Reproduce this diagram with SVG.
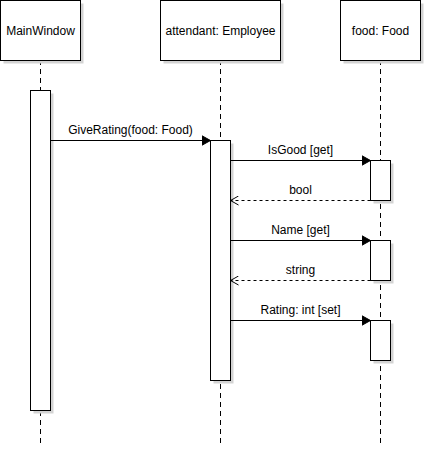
<svg xmlns="http://www.w3.org/2000/svg" width="425" height="465" viewBox="0 0 425 465">
<style>
.box{fill:#fff;stroke:#000;stroke-width:1}
.sh{fill:#d3d3d3;stroke:none}
.life{stroke:#000;stroke-width:1;stroke-dasharray:5 4;fill:none}
.msg{stroke:#000;stroke-width:1;fill:none}
.ret{stroke:#000;stroke-width:1;stroke-dasharray:3 3;fill:none}
.lbl{font-family:"Liberation Sans",Arial,sans-serif;font-size:12px;fill:#000;text-anchor:middle}
.ml{font-family:"Liberation Sans",Arial,sans-serif;font-size:12px;fill:#000;text-anchor:middle}
</style>
<defs>
<marker id="fill" markerWidth="10" markerHeight="12" refX="9" refY="6" orient="auto" markerUnits="userSpaceOnUse">
<path d="M0,1 L9,6 L0,11 Z" fill="#000" stroke="#000" stroke-width="1"/>
</marker>
<marker id="open" markerWidth="10" markerHeight="10" refX="9" refY="5" orient="auto" markerUnits="userSpaceOnUse">
<path d="M1,0.5 L9,5 L1,9.5" fill="none" stroke="#000" stroke-width="1"/>
</marker>
</defs>
<g id="lifelines">
<line class="life" x1="40.5" y1="60" x2="40.5" y2="446"/>
<line class="life" x1="220.5" y1="60" x2="220.5" y2="446"/>
<line class="life" x1="380.5" y1="60" x2="380.5" y2="446"/>
</g>
<g id="MainWindow">
<rect class="sh" x="3.5" y="3.5" width="80" height="60"/>
<rect class="box" x="0.5" y="0.5" width="80" height="60"/>
<text class="lbl" x="40.5" y="35">MainWindow</text>
</g>
<g id="attendant">
<rect class="sh" x="163.5" y="3.5" width="120" height="60"/>
<rect class="box" x="160.5" y="0.5" width="120" height="60"/>
<text class="lbl" x="220.5" y="35">attendant: Employee</text>
</g>
<g id="food">
<rect class="sh" x="343.5" y="3.5" width="80" height="60"/>
<rect class="box" x="340.5" y="0.5" width="80" height="60"/>
<text class="lbl" x="380.5" y="35">food: Food</text>
</g>
<g id="act-main">
<rect class="sh" x="33.5" y="93.5" width="20" height="320"/>
<rect class="box" x="30.5" y="90.5" width="20" height="320"/>
</g>
<g id="act-attendant">
<rect class="sh" x="213.5" y="143.5" width="20" height="240"/>
<rect class="box" x="210.5" y="140.5" width="20" height="240"/>
</g>
<g id="act-food1">
<rect class="sh" x="373.5" y="163.5" width="20" height="40"/>
<rect class="box" x="370.5" y="160.5" width="20" height="40"/>
</g>
<g id="act-food2">
<rect class="sh" x="373.5" y="243.5" width="20" height="40"/>
<rect class="box" x="370.5" y="240.5" width="20" height="40"/>
</g>
<g id="act-food3">
<rect class="sh" x="373.5" y="323.5" width="20" height="40"/>
<rect class="box" x="370.5" y="320.5" width="20" height="40"/>
</g>
<g id="connectors">
<line class="msg" x1="50.5" y1="140.5" x2="210.5" y2="140.5" marker-end="url(#fill)"/>
<text class="ml" x="130.5" y="134">GiveRating(food: Food)</text>
<line class="msg" x1="230.5" y1="160.5" x2="370.5" y2="160.5" marker-end="url(#fill)"/>
<text class="ml" x="300.5" y="154">IsGood [get]</text>
<line class="ret" x1="370.5" y1="200.5" x2="230.5" y2="200.5" marker-end="url(#open)"/>
<text class="ml" x="300.5" y="194">bool</text>
<line class="msg" x1="230.5" y1="240.5" x2="370.5" y2="240.5" marker-end="url(#fill)"/>
<text class="ml" x="300.5" y="234">Name [get]</text>
<line class="ret" x1="370.5" y1="280.5" x2="230.5" y2="280.5" marker-end="url(#open)"/>
<text class="ml" x="300.5" y="274">string</text>
<line class="msg" x1="230.5" y1="320.5" x2="370.5" y2="320.5" marker-end="url(#fill)"/>
<text class="ml" x="300.5" y="314">Rating: int [set]</text>
</g>
</svg>
